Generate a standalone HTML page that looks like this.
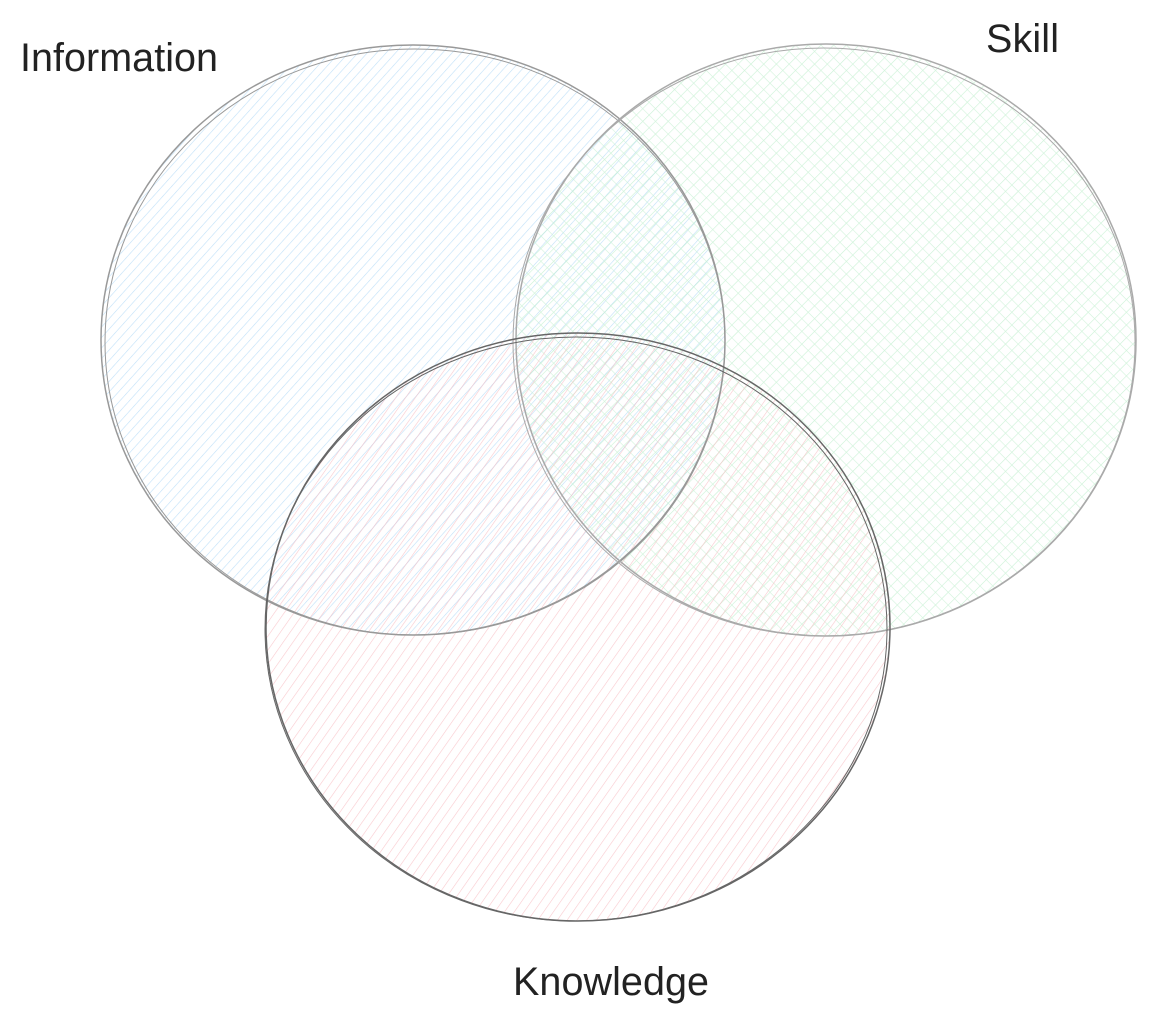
<!DOCTYPE html>
<html><head><meta charset="utf-8"><style>
html,body{margin:0;padding:0;background:#fff;width:1158px;height:1028px;overflow:hidden}
</style></head><body>
<svg width="1158" height="1028" viewBox="0 0 1158 1028" xmlns="http://www.w3.org/2000/svg">
<defs>
<pattern id="pb" width="7" height="7" patternUnits="userSpaceOnUse" patternTransform="rotate(42)">
<line x1="0" y1="0" x2="0" y2="7" stroke="#b0d8f6" stroke-width="1.2"/></pattern>
<pattern id="pg" width="9" height="9" patternUnits="userSpaceOnUse" patternTransform="rotate(45)">
<line x1="0" y1="0" x2="0" y2="9" stroke="#bdeecb" stroke-width="1.2"/><line x1="0" y1="0" x2="9" y2="0" stroke="#c6f0d2" stroke-width="1.2"/></pattern>
<pattern id="pr" width="8" height="8" patternUnits="userSpaceOnUse" patternTransform="rotate(35)">
<line x1="0" y1="0" x2="0" y2="8" stroke="#f7bcc2" stroke-width="1.2"/></pattern>
</defs>
<ellipse cx="413" cy="340" rx="312" ry="295" fill="url(#pb)" opacity="0.8"/>
<ellipse cx="826" cy="340" rx="310" ry="296" fill="url(#pg)" opacity="0.8"/>
<ellipse cx="578" cy="627" rx="312" ry="294" fill="url(#pr)" opacity="0.8"/>
<g fill="none" stroke="#999" stroke-width="1.5">
<ellipse cx="413" cy="340" rx="312" ry="295"/>
<ellipse cx="415" cy="342" rx="310" ry="293" stroke-width="1"/>
<ellipse cx="826" cy="340" rx="310" ry="296" stroke="#aaa"/>
<ellipse cx="824" cy="342" rx="311" ry="294" stroke="#aaa" stroke-width="1"/>
</g>
<g fill="none" stroke="#666" stroke-width="1.5">
<ellipse cx="578" cy="627" rx="312" ry="294"/>
<ellipse cx="576" cy="629" rx="311" ry="292" stroke-width="1"/>
</g>
<g font-family="Liberation Sans, sans-serif" font-size="39.5" fill="#222">
<text x="20" y="71" textLength="198">Information</text>
<text x="986" y="52" textLength="73">Skill</text>
<text x="513" y="995" textLength="196">Knowledge</text>
</g>
</svg>
</body></html>
